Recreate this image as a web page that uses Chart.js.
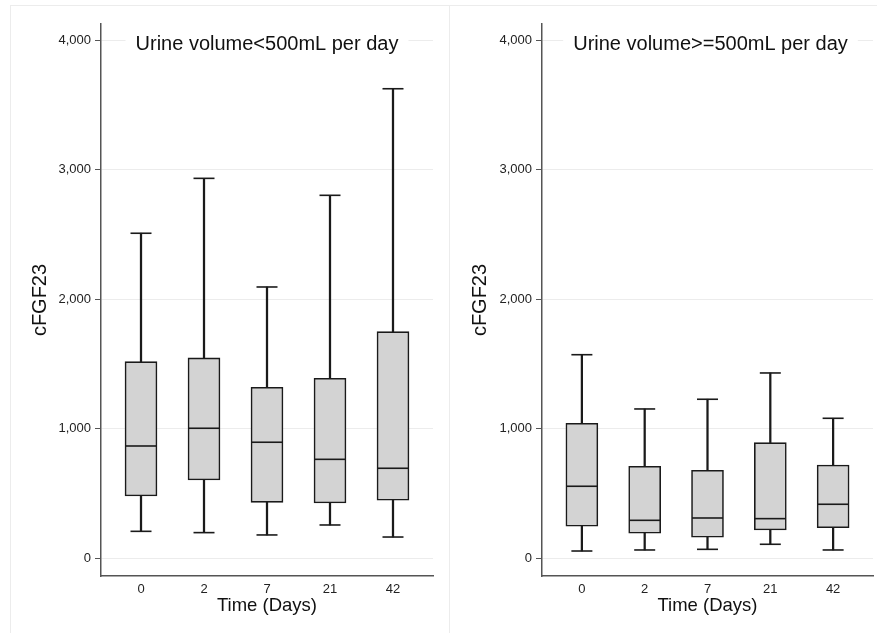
<!DOCTYPE html>
<html><head><meta charset="utf-8">
<script src="https://cdn.jsdelivr.net/npm/chart.js@4"></script>
<style>
html,body{margin:0;padding:0;background:#fff;}
#wrap{position:relative;width:877px;height:633px;overflow:hidden;background:#fff;}
.frame{position:absolute;border-left:1px solid #ececec;border-top:1px solid #ececec;}
.cv{position:absolute;top:0;}
</style></head><body>
<div id="wrap">
<div class="frame" style="left:10px;top:5px;width:439px;height:640px"></div>
<div class="frame" style="left:449px;top:5px;width:440px;height:640px"></div>
<div class="cv" style="left:0;"><canvas id="c1" width="440" height="633"></canvas></div>
<div class="cv" style="left:440px;"><canvas id="c2" width="437" height="633"></canvas></div>
</div>
<script>
// categories
const days = ['0', '2', '7', '21', '42'];
const xPos = [0, 1, 2, 3, 4];
// y tick values and labels
const yTicks = [0, 1000, 2000, 3000, 4000];
const yTickLabels = ['0', '1,000', '2,000', '3,000', '4,000'];

// Panel 1: Urine volume < 500 mL per day
const lowWhiskerLo = [208, 198, 180, 257, 164];
const q1Lo = [481, 605, 432, 427, 448];
const medianLo = [867, 1004, 896, 764, 695];
const q3Lo = [1518, 1547, 1320, 1390, 1750];
const highWhiskerLo = [2510, 2934, 2095, 2803, 3626];

// Panel 2: Urine volume >= 500 mL per day
const lowWhiskerHi = [56, 64, 69, 108, 64];
const q1Hi = [247, 193, 162, 219, 236];
const medianHi = [556, 293, 311, 306, 417];
const q3Hi = [1042, 710, 680, 893, 720];
const highWhiskerHi = [1572, 1153, 1228, 1431, 1081];

const FAMILY = '"Liberation Sans", Arial, Helvetica, sans-serif';
const INK = '#1a1a1a';

const panelTitle = {
  id: 'panelTitle',
  afterDatasetsDraw(chart, args, opts) {
    const {ctx, chartArea} = chart;
    ctx.save();
    ctx.font = '20px ' + FAMILY;
    const w = ctx.measureText(opts.text).width;
    const cx = (chartArea.left + chartArea.right) / 2 + (opts.dx || 0);
    ctx.fillStyle = '#fff';
    ctx.fillRect(cx - w / 2 - 10, chartArea.top + 8, w + 20, 26);
    ctx.fillStyle = '#111';
    ctx.textAlign = 'center';
    ctx.textBaseline = 'alphabetic';
    ctx.fillText(opts.text, cx, chartArea.top + 26);
    ctx.restore();
  }
};

function makeChart(id, title, lo, q1, med, q3, hi, yWidth, padRight, dx) {
  const boxData = xPos.map((x, i) => ({x: x, y: [q1[i], q3[i]]}));
  const upper = xPos.map((x, i) => ({x: x, y: [q3[i], hi[i]]}));
  const lower = xPos.map((x, i) => ({x: x, y: [lo[i], q1[i]]}));
  const caps = xPos.map((x, i) => ({x: x, y: hi[i]})).concat(xPos.map((x, i) => ({x: x, y: lo[i]})));
  const meds = xPos.map((x, i) => ({x: x, y: med[i]}));
  return new Chart(document.getElementById(id), {
    type: 'bar',
    data: {
      datasets: [
        {type: 'line', data: meds, showLine: false, pointStyle: 'line', pointRadius: 15.5,
         pointBorderWidth: 1.6, pointBorderColor: INK, pointBackgroundColor: INK, order: 0},
        {type: 'line', data: caps, showLine: false, pointStyle: 'line', pointRadius: 10.5,
         pointBorderWidth: 1.6, pointBorderColor: INK, pointBackgroundColor: INK, order: 0},
        {type: 'bar', data: boxData, backgroundColor: '#d3d3d3', borderColor: INK, borderWidth: 1.6,
         borderSkipped: false, barThickness: 32, grouped: false, order: 1},
        {type: 'bar', data: upper, backgroundColor: INK, borderWidth: 0, barThickness: 1.6, grouped: false, order: 2},
        {type: 'bar', data: lower, backgroundColor: INK, borderWidth: 0, barThickness: 1.6, grouped: false, order: 2}
      ]
    },
    options: {
      responsive: false,
      animation: false,
      events: [],
      layout: {autoPadding: false, padding: {top: 24, right: padRight, left: 0, bottom: 0}},
      plugins: {
        legend: {display: false},
        tooltip: {enabled: false},
        panelTitle: {text: title, dx: dx}
      },
      scales: {
        x: {
          type: 'linear', min: -0.635, max: 4.635, offset: false,
          afterBuildTicks: s => { s.ticks = xPos.map(v => ({value: v})); },
          afterFit: s => { s.height = 57; s.paddingLeft = 0; s.paddingRight = 0; },
          grid: {display: false, drawTicks: false, offset: false},
          border: {display: true, color: '#555', width: 1.5},
          ticks: {padding: 6, color: '#222', font: {size: 13, family: FAMILY}, maxRotation: 0, autoSkip: false,
                  callback: (v, i) => days[i]},
          title: {display: true, text: 'Time (Days)', color: '#111', font: {size: 18.5, family: FAMILY},
                  padding: {top: 0, bottom: 16}}
        },
        y: {
          type: 'linear', min: -137, max: 4126,
          afterBuildTicks: s => { s.ticks = yTicks.map(v => ({value: v})); },
          afterFit: s => { s.width = yWidth; s.paddingTop = 0; s.paddingBottom = 0; },
          grid: {color: '#ececec', lineWidth: 1, tickColor: '#555', tickLength: 6, drawTicks: true},
          border: {display: true, color: '#555', width: 1.5},
          ticks: {padding: 4, color: '#222', font: {size: 13, family: FAMILY},
                  callback: (v, i) => yTickLabels[i]},
          title: {display: true, text: 'cFGF23', color: '#111', font: {size: 20, family: FAMILY},
                  padding: {top: 28, bottom: 0}}
        }
      }
    },
    plugins: [panelTitle]
  });
}

makeChart('c1', 'Urine volume<500mL per day', lowWhiskerLo, q1Lo, medianLo, q3Lo, highWhiskerLo, 101, 7, 0);
makeChart('c2', 'Urine volume>=500mL per day', lowWhiskerHi, q1Hi, medianHi, q3Hi, highWhiskerHi, 102, 4, 3);
</script>
</body></html>
